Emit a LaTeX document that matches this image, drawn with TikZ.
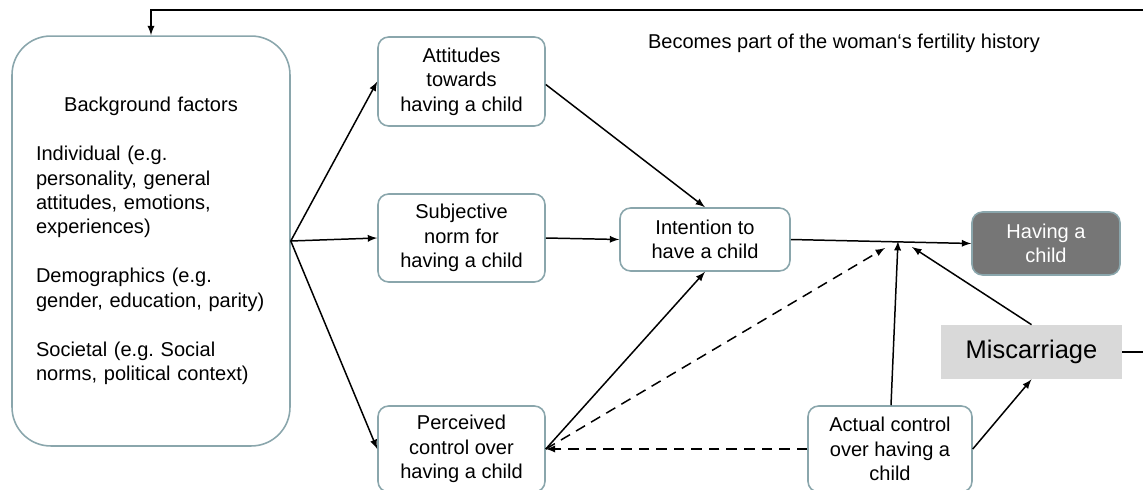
\documentclass[tikz,border=0pt]{standalone}
\usepackage{fontspec}
\setmainfont{Liberation Sans}
\usetikzlibrary{calc}
\definecolor{boxline}{HTML}{8AA6AC}
\definecolor{outcomefill}{HTML}{767676}
\definecolor{miscfill}{HTML}{D9D9D9}
\newcommand\diagfont{\fontsize{11.4}{13.9}\selectfont}
\frenchspacing
\tikzset{
  factorbox/.style={draw=boxline,line width=0.9pt,rounded corners=6pt,fill=white,align=center,
    minimum width=3.34cm,minimum height=1.76cm,inner sep=2pt},
  link/.style={->,>=latex,line width=0.85pt},
  dashlink/.style={link,dash pattern=on 6pt off 4pt},
}
\begin{document}
\begin{tikzpicture}[x=0.02cm,y=-0.02cm,every node/.append style={font=\diagfont}]
    \useasboundingbox (0,0) rectangle (1143,490);
    \clip (0,0) rectangle (1143,490);
    \node[draw=boxline,line width=0.9pt,rounded corners=22pt,minimum width=5.56cm,minimum height=8.2cm,
      text width=4.6cm,align=left](bg)at(151,241)
      {\makebox[4.6cm]{Background factors}\\[13.9pt]
       Individual (e.g.\\ personality, general\\ attitudes, emotions,\\ experiences)\\[13.9pt]
       Demographics (e.g.\\ gender, education, parity)\\[13.9pt]
       Societal (e.g. Social\\ norms, political context)};
    \node[factorbox,minimum height=1.78cm](att)at(461.5,81.5){Attitudes\\ towards\\ having a child};
    \node[factorbox](norm)at(461.5,238){Subjective\\ norm for\\ having a child};
    \node[factorbox,minimum height=1.72cm](perc)at(461.5,449){Perceived\\ control over\\ having a child};
    \node[factorbox,minimum width=3.4cm,minimum height=1.26cm](int)at(705,239.5){Intention to\\ have a child};
    \node[factorbox,fill=outcomefill,text=white,minimum width=2.96cm,minimum height=1.26cm](child)at(1046,243.5){Having a\\ child};
    \node[fill=miscfill,minimum width=3.62cm,minimum height=1.08cm,font=\fontsize{14.5}{17}\selectfont](misc)at(1031.5,352){Miscarriage};
    \node[factorbox,minimum width=3.28cm,minimum height=1.72cm](act)at(890,449){Actual control\\ over having a\\ child};
    \node(hist)at(844,43){Becomes part of the woman‘s fertility history};
    \coordinate(jA)at(898,241);
    \coordinate(jD)at(885,248);
    \coordinate(jM)at(912,247);
    % background factors to the three beliefs
    \draw[link](bg.east)--(att.west);
    \draw[link](bg.east)--(norm.west);
    \draw[link](bg.east)--(perc.west);
    % beliefs to intention
    \draw[link]($(att.east)+(0,3)$)--(int.north);
    \draw[link](norm.east)--(int.west);
    \draw[link](perc.east)--(int.south);
    \draw[link](int.east)--(child.west);
    % control
    \draw[dashlink](perc.east)--(jD);
    \draw[dashlink](act.west)--(perc.east);
    \draw[link]($(act.north)+(1,0)$)--(jA);
    \draw[link](act.east)--(misc.south);
    \draw[link](misc.north)--(jM);
    % feedback loop
    \draw[link](misc.east)-|(1160,10)-|(bg.north);
  \end{tikzpicture}
\end{document}
